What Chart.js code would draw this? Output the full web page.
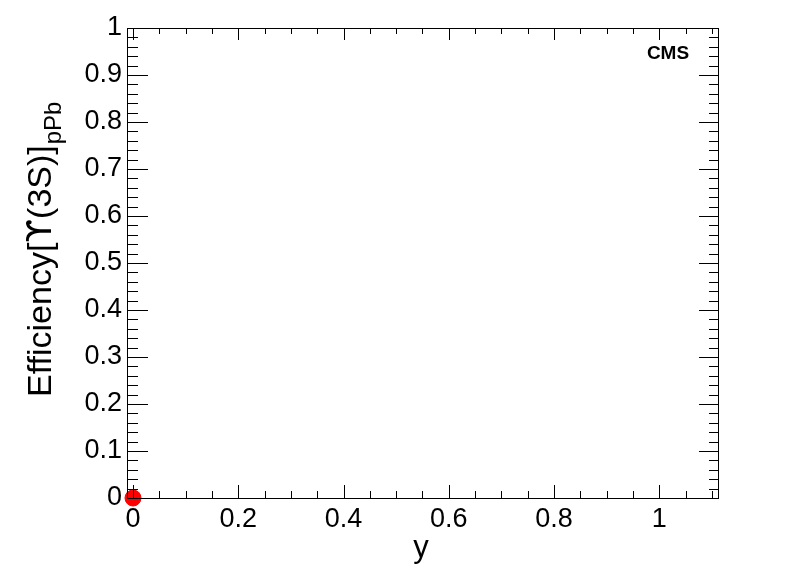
<!DOCTYPE html>
<html>
<head>
<meta charset="utf-8">
<title>Efficiency vs y</title>
<script src="https://cdn.jsdelivr.net/npm/chart.js@4.4.1/dist/chart.umd.min.js"></script>
<style>
  html, body { margin: 0; padding: 0; background: #fff; }
  #wrap { width: 798px; height: 573px; }
</style>
</head>
<body>
<div id="wrap"><canvas id="eff-chart" width="798" height="573"></canvas></div>
<script>
// ── Data ─────────────────────────────────────────────────────
const rapidity   = [0];
const efficiency = [0];

const xTicks = [0, 0.2, 0.4, 0.6, 0.8, 1];
const yTicks = [0, 0.1, 0.2, 0.3, 0.4, 0.5, 0.6, 0.7, 0.8, 0.9, 1];

const X_MIN = -0.0114, X_MAX = 1.1115;
const Y_MIN = 0, Y_MAX = 1;

const FONT = '"Liberation Sans", Arial, Helvetica, sans-serif';
const SYM_FONT = '"DejaVu Sans", sans-serif';

// ── ROOT-style frame, ticks and labels ───────────────────────
const rootFrame = {
  id: 'rootFrame',
  afterDraw(chart) {
    const { ctx, chartArea: a, scales: { x, y } } = chart;
    ctx.save();
    ctx.strokeStyle = '#000';
    ctx.lineWidth = 1;
    ctx.strokeRect(Math.round(a.left) + 0.5, Math.round(a.top) + 0.5,
                   Math.round(a.right - a.left), Math.round(a.bottom - a.top));

    ctx.beginPath();
    // x ticks: major every 0.2, minor every 0.05
    for (let i = 0; i * 0.05 <= X_MAX + 1e-9; i++) {
      const v = i * 0.05;
      const px = Math.round(x.getPixelForValue(v)) + 0.5;
      const major = i % 4 === 0;
      const lb = major ? 13 : 7, lt = major ? 12 : 6;
      ctx.moveTo(px, a.bottom); ctx.lineTo(px, a.bottom - lb);
      ctx.moveTo(px, a.top);    ctx.lineTo(px, a.top + lt);
    }
    // y ticks: major every 0.1, minor every 0.02
    for (let i = 0; i <= 50; i++) {
      const v = i * 0.02;
      const py = Math.round(y.getPixelForValue(v)) + 0.5;
      const major = i % 5 === 0;
      const ll = major ? 21 : 11, lr = major ? 19 : 9;
      ctx.moveTo(a.left, py);  ctx.lineTo(a.left + ll, py);
      ctx.moveTo(a.right, py); ctx.lineTo(a.right - lr, py);
    }
    ctx.stroke();

    // CMS label
    ctx.fillStyle = '#000';
    ctx.font = 'bold 19px ' + FONT;
    ctx.textAlign = 'center';
    ctx.textBaseline = 'alphabetic';
    ctx.fillText('CMS', 668, 59);

    // x title
    ctx.font = '31px ' + FONT;
    ctx.fillText('y', 421, 557);

    // y title with subscript (rotated)
    ctx.translate(51, 397);
    ctx.rotate(-Math.PI / 2);
    ctx.textAlign = 'left';
    const parts = [['Efficiency[', FONT], ['ϒ', SYM_FONT], ['(3S)]', FONT]];
    let pos = 0;
    for (const [txt, fam] of parts) {
      ctx.font = '34px ' + fam;
      ctx.fillText(txt, pos, 0);
      pos += ctx.measureText(txt).width;
    }
    ctx.font = '24px ' + FONT;
    ctx.fillText('pPb', pos + 1, 10);
    ctx.restore();
  }
};

// ── Chart ────────────────────────────────────────────────────
new Chart(document.getElementById('eff-chart'), {
  type: 'scatter',
  data: {
    datasets: [{
      label: 'Efficiency',
      data: rapidity.map((v, i) => ({ x: v, y: efficiency[i] })),
      backgroundColor: '#ff0000',
      borderColor: '#ff0000',
      pointRadius: 8,
      pointHoverRadius: 8,
      clip: false,
    }]
  },
  options: {
    responsive: false,
    animation: false,
    layout: { padding: { left: 0, top: 28, right: 80, bottom: 0 } },
    plugins: { legend: { display: false }, tooltip: { enabled: false } },
    scales: {
      x: {
        type: 'linear', min: X_MIN, max: X_MAX,
        grid: { display: false, drawTicks: false },
        border: { display: false },
        afterBuildTicks: s => { s.ticks = xTicks.map(v => ({ value: v })); },
        afterFit: s => { s.height = 75; },
        ticks: {
          color: '#000', padding: 5, maxRotation: 0, autoSkip: false,
          font: { family: FONT, size: 27 },
          callback: v => String(Math.round(v * 10) / 10)
        }
      },
      y: {
        type: 'linear', min: Y_MIN, max: Y_MAX,
        grid: { display: false, drawTicks: false },
        border: { display: false },
        afterBuildTicks: s => { s.ticks = yTicks.map(v => ({ value: v })); },
        afterFit: s => { s.width = 127; },
        ticks: {
          color: '#000', padding: 5, autoSkip: false,
          font: { family: FONT, size: 27 },
          callback: v => String(Math.round(v * 10) / 10)
        }
      }
    }
  },
  plugins: [rootFrame]
});
</script>
</body>
</html>
